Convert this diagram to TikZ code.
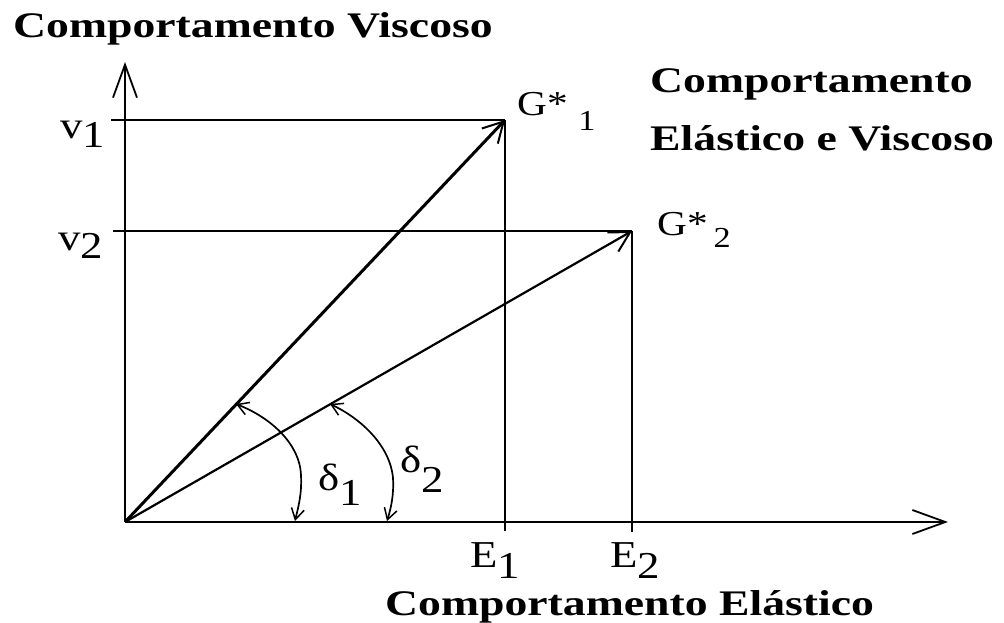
\documentclass[tikz,border=0pt]{standalone}
\usepackage{fontspec}
\setmainfont{Liberation Serif}
\usetikzlibrary{arrows.meta}
\newcommand\widetxt[1]{\scalebox{1.27}[1]{#1}}
\newcommand\widelab[1]{\scalebox{1.18}[1]{#1}}
\newcommand\lowr[2]{\raisebox{-#1}{#2}}
\tikzset{
  axis/.style={line width=2pt,-{Straight Barb[length=33pt,width=24pt,line width=1.8pt]}},
  vec/.style={-{Straight Barb[length=20pt,width=22pt,line width=2pt]}},
  guide/.style={line width=1.8pt},
  angarc/.style={line width=1.7pt,{Straight Barb[length=11pt,width=13pt,line width=1.5pt]}-{Straight Barb[length=11pt,width=13pt,line width=1.5pt]}},
  bold/.style={font=\fontsize{36}{40}\selectfont\bfseries,inner sep=0pt,anchor=base west},
  lab/.style={font=\fontsize{38}{42}\selectfont,inner sep=0pt,anchor=base west}
}
\begin{document}
\begin{tikzpicture}[x=1pt,y=-1pt]
\useasboundingbox (0,0) rectangle (1004,622);
\fill[white] (0,0) rectangle (1004,622);
\coordinate (O) at (125,522);
\coordinate (Ytip) at (125,62);
\coordinate (Xtip) at (948,522);
\coordinate (G1) at (505,120);
\coordinate (G2) at (632,231);
\coordinate (E1t) at (505,531);
\coordinate (E2t) at (632,532);
\coordinate (V1t) at (111,120);
\coordinate (V2t) at (113,231);
\coordinate (A1s) at (236,404);
\coordinate (A1e) at (295,521);
\coordinate (A2s) at (330,404);
\coordinate (A2e) at (387,521);
% axes
\draw[axis] (O) -- (Ytip);
\draw[axis] (O) -- (Xtip);
% guides
\draw[guide] (V1t) -- (G1);
\draw[guide] (V2t) -- (G2);
\draw[guide,line width=1.6pt] (G1) -- (E1t);
\draw[guide,line width=1.6pt] (G2) -- (E2t);
% vectors
\draw[vec,line width=3pt] (O) -- (G1);
\draw[vec,line width=2.2pt] (O) -- (G2);
% angle arcs
\draw[angarc] (A1s) .. controls (272,418) and (300,445) .. (301,475) .. controls (302,495) and (298,508) .. (A1e);
\draw[angarc] (A2s) .. controls (360,418) and (390,445) .. (393,478) .. controls (394,495) and (391,508) .. (A2e);
% texts
\node[bold] (tv) at (13,37) {\widetxt{Comportamento Viscoso}};
\node[bold] (tev1) at (650,92) {\widetxt{Comportamento}};
\node[bold] (tev2) at (650,150) {\widetxt{Elástico e Viscoso}};
\node[bold] (te) at (385,615) {\widetxt{Comportamento Elástico}};
\node[lab] (lv1) at (60,138) {\widelab{v\lowr{9pt}{1}}};
\node[lab] (lv2) at (58,250) {\widelab{v\lowr{8pt}{2}}};
\node[lab,font=\fontsize{35}{40}\selectfont] (lg1) at (517,115) {\widelab{G*\hspace{9pt}\lowr{15pt}{\fontsize{29}{30}\selectfont 1}}};
\node[lab,font=\fontsize{35}{40}\selectfont] (lg2) at (657,235) {\widelab{G*\hspace{5pt}\lowr{12pt}{\fontsize{29}{30}\selectfont 2}}};
\node[lab] (le1) at (470,567) {\widelab{E\lowr{11pt}{1}}};
\node[lab] (le2) at (610,567) {\widelab{E\lowr{11pt}{2}}};
\node[lab] (ld1) at (318,490) {\widelab{δ\lowr{15pt}{1}}};
\node[lab] (ld2) at (400,472) {\widelab{δ\lowr{20pt}{2}}};
\end{tikzpicture}
\end{document}
